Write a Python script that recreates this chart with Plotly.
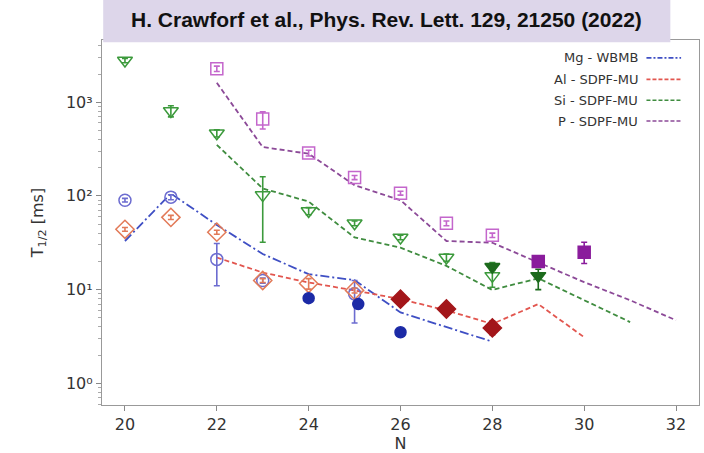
import plotly.graph_objects as go

# ---------------- experimental data (N, T1/2 [ms]) ----------------
mg_open_N = [20, 21, 22, 23, 25]
mg_open_T = [90, 97, 21, 12.5, 9.0]
mg_open_ep = [4, 6, 10, 0.8, 3.5]
mg_open_em = [4, 6, 10, 0.8, 4.6]
mg_fill_N = [24, 25.08, 26]
mg_fill_T = [8.1, 7.0, 3.5]

al_open_N = [20, 21, 22, 23, 24, 25]
al_open_T = [44, 59, 41, 12.5, 11.6, 9.8]
al_open_ep = [2, 3, 2, 0.6, 1.5, 0.6]
al_open_em = [2, 3, 2, 0.6, 1.5, 0.6]
al_fill_N = [26, 27, 28]
al_fill_T = [7.9, 6.2, 3.9]
al_fill_ep = [0.6, 0.3, 0.7]
al_fill_em = [0.6, 0.3, 0.6]

si_open_N = [20, 21, 22, 23, 24, 25, 26, 27, 28]
si_open_T = [2790, 807, 466, 102, 69, 51, 36, 22, 14]
si_open_ep = [150, 110, 40, 58, 6, 3, 2, 2, 5.4]
si_open_em = [150, 110, 40, 70, 6, 3, 2, 2, 3.4]
si_fill_N = [28, 29]
si_fill_T = [17.5, 14]
si_fill_ep = [1.5, 2.5]
si_fill_em = [1.5, 4]

p_open_N = [22, 23, 24, 25, 26, 27, 28]
p_open_T = [2280, 660, 287, 157, 107, 51, 38]
p_open_ep = [150, 128, 20, 8, 5, 3, 2]
p_open_em = [150, 143, 20, 8, 5, 3, 2]
p_fill_N = [29, 30]
p_fill_T = [20, 25]
p_fill_ep = [1.5, 7]
p_fill_em = [1.5, 6]

# ---------------- theory curves ----------------
mg_th_N = [20, 21, 22, 23, 24, 25, 26, 27, 28]
mg_th_T = [33, 106, 49, 24, 14.6, 12.6, 5.7, 4.0, 2.78]
al_th_N = [22, 23, 24, 25, 26, 27, 28, 29, 30]
al_th_T = [22, 15.2, 11.9, 9.8, 7.9, 6.0, 4.3, 7.0, 3.1]
si_th_N = [22, 23, 24, 25, 26, 27, 28, 29, 30, 31]
si_th_T = [351, 120, 87, 36, 28, 17.9, 9.9, 13.2, 7.7, 4.5]
p_th_N = [22, 23, 24, 25, 26, 27, 28, 29, 30, 31, 32]
p_th_T = [1610, 332, 282, 130, 90, 33, 31.6, 19.4, 12, 7.7, 4.7]

legend_labels = ["Mg - WBMB", "Al - SDPF-MU", "Si - SDPF-MU", "P - SDPF-MU"]
x_ticks = [20, 22, 24, 26, 28, 30, 32]
y_ticks = [1, 10, 100, 1000]
y_ticktext = ["10\u2070", "10\u00b9", "10\u00b2", "10\u00b3"]
title_text = "H. Crawforf et al., Phys. Rev. Lett. 129, 21250 (2022)"

# colours
c_mg_line, c_al_line, c_si_line, c_p_line = "#3f4fc4", "#e2564f", "#3f8c3f", "#8c4a98"
c_mg_open, c_mg_fill = "#6c6cd0", "#1c2aa6"
c_al_open, c_al_fill = "#e27a58", "#a3161a"
c_si_open, c_si_fill = "#3c9a3c", "#1d6b1d"
c_p_open, c_p_fill = "#c466cc", "#8a1c9c"

fig = go.Figure()

# theory lines
for xs, ys, col, dash in [
    (mg_th_N, mg_th_T, c_mg_line, "9px,3px,2px,3px"),
    (al_th_N, al_th_T, c_al_line, "5px,3px"),
    (si_th_N, si_th_T, c_si_line, "5px,3px"),
    (p_th_N, p_th_T, c_p_line, "5px,3px"),
]:
    fig.add_trace(go.Scatter(x=xs, y=ys, mode="lines",
                             line=dict(color=col, width=1.8, dash=dash),
                             showlegend=False, hoverinfo="skip"))


def pts(xs, ys, ep, em, col, symbol, size, filled):
    kw = dict(x=xs, y=ys, mode="markers", showlegend=False,
              marker=dict(symbol=symbol if filled else symbol + "-open",
                          size=size, color=col,
                          line=dict(color=col, width=1.5)))
    if ep is not None:
        kw["error_y"] = dict(type="data", array=ep, arrayminus=em,
                             color=col, thickness=1.6, width=3)
    fig.add_trace(go.Scatter(**kw))


pts(mg_open_N, mg_open_T, mg_open_ep, mg_open_em, c_mg_open, "circle", 12, False)
pts(al_open_N, al_open_T, al_open_ep, al_open_em, c_al_open, "diamond", 14, False)
pts(si_open_N, si_open_T, si_open_ep, si_open_em, c_si_open, "triangle-down", 13, False)
pts(p_open_N, p_open_T, p_open_ep, p_open_em, c_p_open, "square", 12, False)
pts(mg_fill_N, mg_fill_T, None, None, c_mg_fill, "circle", 11, True)
pts(al_fill_N, al_fill_T, al_fill_ep, al_fill_em, c_al_fill, "diamond", 14, True)
pts(si_fill_N, si_fill_T, si_fill_ep, si_fill_em, c_si_fill, "triangle-down", 13, True)
pts(p_fill_N, p_fill_T, p_fill_ep, p_fill_em, c_p_fill, "square", 12, True)

# manual legend (text first, line sample after, as in the reference)
leg_cols = [c_mg_line, c_al_line, c_si_line, c_p_line]
leg_dash = ["dashdot", "dash", "dash", "dash"]
leg_y = [0.951, 0.892, 0.835, 0.778]
shapes = []
annotations = []
for lab, col, dsh, yy in zip(legend_labels, leg_cols, leg_dash, leg_y):
    annotations.append(dict(x=0.902, y=yy, xref="paper", yref="paper",
                            text=lab, showarrow=False, xanchor="right",
                            yanchor="middle",
                            font=dict(family="DejaVu Sans", size=13, color="#333333")))
    shapes.append(dict(type="line", xref="paper", yref="paper",
                       x0=0.912, x1=0.97, y0=yy, y1=yy,
                       line=dict(color=col, width=1.6,
                                 dash="5px,2px,2px,2px" if dsh == "dashdot" else "4px,2px")))

# title banner
shapes.append(dict(type="rect", xref="paper", yref="paper",
                   x0=0.002, x1=0.952, y0=0.994, y1=1.12,
                   fillcolor="#ddd6ea", line=dict(width=0), layer="above"))
annotations.append(dict(x=0.477, y=1.055, xref="paper", yref="paper",
                        text="<b>" + title_text + "</b>", showarrow=False,
                        xanchor="center", yanchor="middle",
                        font=dict(family="Liberation Sans", size=21, color="#111111")))

minor_vals = [m * 10 ** d for d in range(-1, 4) for m in range(2, 10)]

fig.update_layout(
    width=704, height=453,
    margin=dict(l=102, r=4, t=40, b=44),
    paper_bgcolor="white", plot_bgcolor="white",
    shapes=shapes, annotations=annotations,
    showlegend=False,
)
fig.update_xaxes(
    range=[19.5, 32.5], tickvals=x_ticks, ticks="outside", ticklen=5,
    tickcolor="#888888", showline=True, linecolor="#999999", linewidth=1.2,
    mirror=True, showgrid=False, zeroline=False,
    tickfont=dict(family="DejaVu Sans", size=16, color="#333333"),
    title=dict(text="N", standoff=4,
               font=dict(family="DejaVu Sans", size=16, color="#333333")),
)
fig.update_yaxes(
    type="log", range=[-0.232, 3.664], tickvals=y_ticks, ticktext=y_ticktext,
    ticks="outside", ticklen=5, tickcolor="#888888",
    showline=True, linecolor="#999999", linewidth=1.2, mirror=True,
    showgrid=False, zeroline=False,
    minor=dict(tickvals=minor_vals, ticks="outside", ticklen=2.5,
               tickcolor="#aaaaaa", showgrid=False),
    tickfont=dict(family="DejaVu Sans", size=16, color="#333333"),
    title=dict(text="T<sub>1/2</sub> [ms]", standoff=18,
               font=dict(family="DejaVu Sans", size=16, color="#333333")),
)

fig.write_html("out.html")
